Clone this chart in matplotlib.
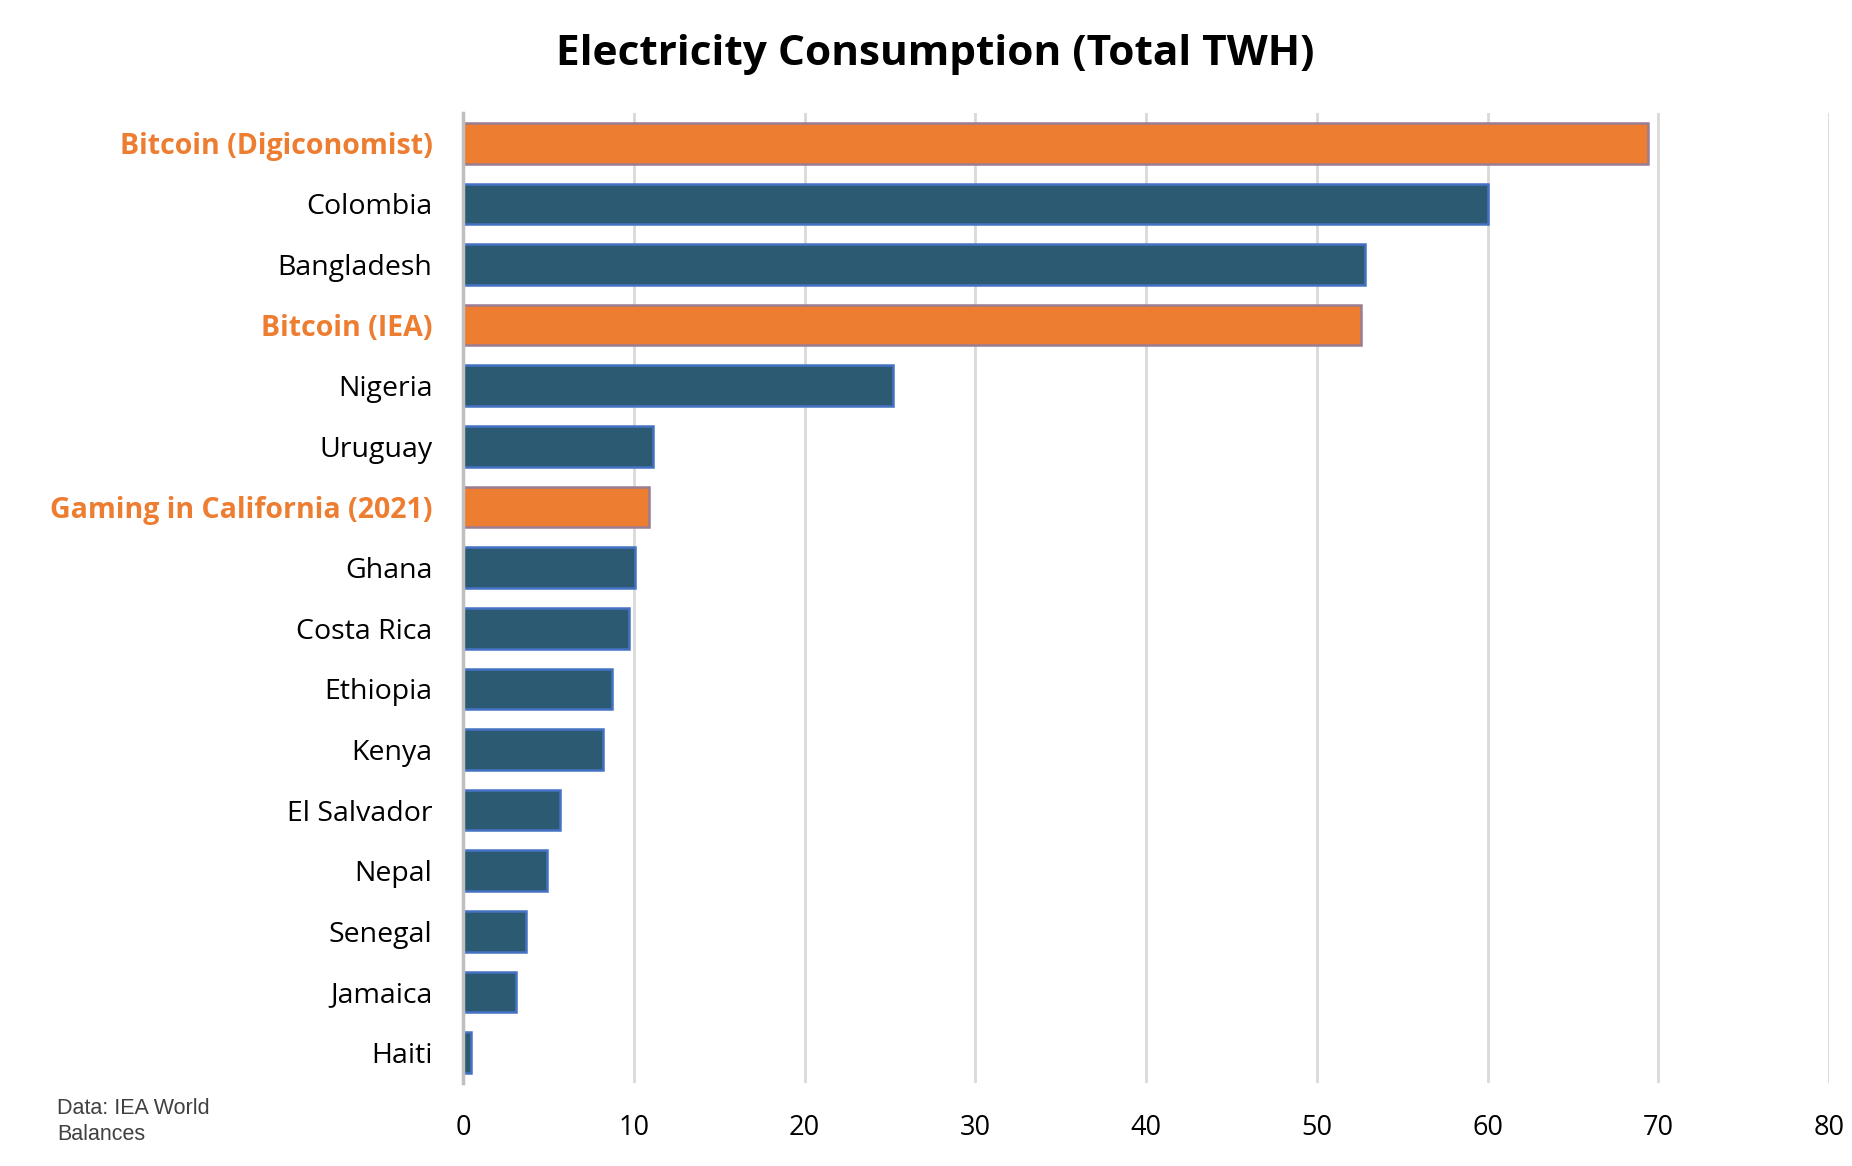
import numpy as np
import matplotlib.pyplot as plt

labels = ["Bitcoin (Digiconomist)", "Colombia", "Bangladesh", "Bitcoin (IEA)",
          "Nigeria", "Uruguay", "Gaming in California (2021)", "Ghana",
          "Costa Rica", "Ethiopia", "Kenya", "El Salvador", "Nepal",
          "Senegal", "Jamaica", "Haiti"]
values = [69.4, 60.0, 52.8, 52.6, 25.2, 11.1, 10.9, 10.1,
          9.75, 8.7, 8.2, 5.7, 4.9, 3.7, 3.1, 0.45]
highlight = [True, False, False, True, False, False, True, False,
             False, False, False, False, False, False, False, False]
ticks = [0, 10, 20, 30, 40, 50, 60, 70, 80]

BLUE = "#2D5A73"
BLUE_EDGE = "#4472C4"
ORANGE = "#ED7D31"
ORANGE_EDGE = "#9A7D93"

fig = plt.figure(figsize=(18.52, 11.66), dpi=100)
ax = fig.add_axes([0.25, 0.0712, 0.7376, 0.8319])

y = np.arange(len(labels))
faces = [ORANGE if h else BLUE for h in highlight]
edges = [ORANGE_EDGE if h else BLUE_EDGE for h in highlight]
ax.barh(y, values, height=0.67, color=faces, edgecolor=edges, linewidth=1.8, zorder=3)

ax.set_ylim(len(labels) - 0.5, -0.5)
ax.set_xlim(0, 80)
ax.set_xticks(ticks)
ax.set_yticks(y)
ax.set_yticklabels(labels, fontsize=20.5, family="Open Sans")
for t, h in zip(ax.get_yticklabels(), highlight):
    if h:
        t.set_color(ORANGE)
        t.set_fontweight("bold")
for t in ax.get_xticklabels():
    t.set_fontsize(19.5)
    t.set_family("Open Sans")

ax.tick_params(axis="y", length=0, pad=22)
ax.tick_params(axis="x", length=0, pad=22)
ax.grid(axis="x", color="#D9D9D9", linewidth=2, zorder=0)
for s in ["top", "right", "bottom"]:
    ax.spines[s].set_visible(False)
ax.spines["left"].set_color("#BFBFBF")
ax.spines["left"].set_linewidth(2.5)
ax.spines["left"].set_zorder(4)

fig.text(0.505, 0.953, "Electricity Consumption (Total TWH)", fontsize=30.5, fontweight="bold",
         family="Open Sans", ha="center", va="center")
fig.text(0.031, 0.038, "Data: IEA World\nBalances", fontsize=15.5, color="#404040",
         family="Liberation Sans", va="center", linespacing=1.3)

fig.savefig("out.png", dpi=100)
